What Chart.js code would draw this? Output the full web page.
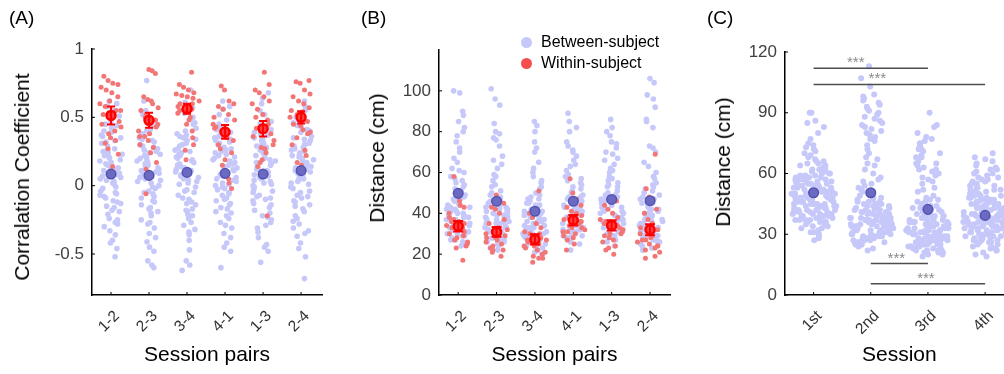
<!DOCTYPE html>
<html>
<head>
<meta charset="utf-8">
<script src="https://cdn.jsdelivr.net/npm/chart.js@4.4.1/dist/chart.umd.min.js"></script>
<style>
  body { margin: 0; width: 1004px; height: 374px; overflow: hidden; background: #fff; position: relative;
         font-family: "Liberation Sans", Arial, sans-serif; }
  canvas { position: absolute; top: 0; }
  .tag { position: absolute; top: 7px; font-size: 19px; color: #000; }
  .ytitle { position: absolute; font-size: 21px; color: #000; white-space: nowrap;
            transform: translate(-50%, -50%) rotate(-90deg); }
  #legend { position: absolute; left: 521px; top: 31px; font-size: 16px; color: #000; }
  #legend div { height: 21px; line-height: 21px; white-space: nowrap; }
  #legend span { display: inline-block; width: 11px; height: 11px; border-radius: 50%; margin-right: 9px; vertical-align: -1px; }
</style>
</head>
<body>
<canvas id="chartA" width="340" height="374" style="left:0"></canvas>
<canvas id="chartB" width="340" height="374" style="left:340px"></canvas>
<canvas id="chartC" width="340" height="374" style="left:680px"></canvas>
<div class="tag" style="left:9px">(A)</div>
<div class="tag" style="left:361px">(B)</div>
<div class="tag" style="left:707px">(C)</div>
<div class="ytitle" style="left:22px;top:177px">Corralation Coefficient</div>
<div class="ytitle" style="left:377px;top:158px">Distance (cm)</div>
<div class="ytitle" style="left:723px;top:162px">Distance (cm)</div>
<div id="legend"></div>
<script>
const pairLabels = ['1-2', '2-3', '3-4', '4-1', '1-3', '2-4'];
const sessionLabels = ['1st', '2nd', '3rd', '4th'];

// (A) correlation coefficient
const corrTicks = [-0.5, 0, 0.5, 1];
const corrBetweenMean = [0.085, 0.075, 0.097, 0.09, 0.085, 0.11];
const corrWithinMean = [0.514, 0.478, 0.563, 0.393, 0.417, 0.5];
const corrWithinSem = [0.066, 0.055, 0.037, 0.05, 0.057, 0.045];
const corrBetween = [
  [0.12,-0.21,0.35,0.02,-0.08,0.44,-0.33,0.18,0.27,-0.15,0.06,0.39,-0.02,-0.27,0.15,0.51,-0.11,0.22,0.09,-0.42,0.31,-0.05,0.04,0.6,-0.18,0.25,0.13,-0.24,0.37,0.01,-0.09,0.19,0.47,-0.3,0.08,0.29,-0.13,0.55,0.11,-0.52,0.2,-0.04,0.33,0.16,-0.19,0.42,0.07,-0.36,0.24,-0.07,0.03,0.58,-0.25,0.14,0.36,-0.01,0.26,-0.46,0.1,0.45,-0.12,0.21,0.05,-0.16,0.32,-0.28,0.17,0.4,-0.06,0.62,0.23,-0.4],
  [-0.14,0.28,0.05,-0.38,0.41,0.11,-0.02,0.19,-0.25,0.33,0.08,-0.6,0.24,-0.09,0.47,0.14,-0.19,0.02,0.36,-0.31,0.17,0.62,-0.06,0.26,0.09,-0.45,0.38,-0.12,0.21,0.03,-0.22,0.55,0.13,-0.04,0.3,-0.58,0.16,0.44,-0.16,0.07,0.25,-0.28,0.35,-0.01,0.77,0.12,-0.35,0.2,-0.08,0.4,0.04,-0.2,0.29,-0.48,0.15,0.52,-0.11,0.22,0,-0.27,0.34,0.1,-0.55,0.18,0.43,-0.05,0.27,-0.17,0.06,0.32,-0.41,0.23],
  [0.31,-0.07,0.18,-0.29,0.46,0.02,0.23,-0.17,0.09,0.38,-0.36,0.14,0.57,-0.03,0.27,-0.12,0.05,0.42,-0.24,0.16,0.7,-0.55,0.21,0.11,-0.09,0.34,-0.19,0.01,0.49,0.13,-0.32,0.25,0.07,-0.05,0.37,-0.62,0.19,0.53,-0.14,0.04,0.29,-0.22,0.4,0.1,-0.4,0.24,-0.01,0.33,0.15,-0.27,0.61,0.06,-0.1,0.22,0.45,-0.18,0.12,-0.47,0.3,0.03,-0.21,0.36,0.17,-0.04,0.26,-0.34,0.08,0.5,-0.13,0.2,-0.58,0.35],
  [-0.2,0.14,0.33,-0.05,0.08,-0.31,0.26,0.45,-0.13,0.02,0.19,-0.42,0.37,0.11,-0.02,0.24,-0.24,0.56,0.06,-0.09,0.3,0.16,-0.35,0.41,0.01,-0.16,0.21,0.09,-0.6,0.34,-0.07,0.13,0.48,-0.27,0.04,0.28,-0.11,0.18,0.62,-0.48,0.23,-0.03,0.39,0.07,-0.19,0.15,0.31,-0.38,0.1,0.52,-0.14,0.25,0.03,-0.22,0.36,0.12,-0.45,0.2,-0.06,0.43,0.17,-0.29,0.05,0.27,-0.01,0.35,-0.17,0.22,0.58,-0.1,0,0.32],
  [0.22,-0.16,0.05,0.39,-0.29,0.13,-0.04,0.31,0.08,-0.43,0.26,0.47,-0.1,0.17,0.01,-0.22,0.35,0.1,-0.07,0.68,0.2,-0.34,0.03,0.43,-0.13,0.28,0.14,-0.48,0.24,-0.01,0.37,0.06,-0.25,0.52,-0.08,0.16,0.3,-0.18,0.09,-0.56,0.41,0.02,-0.31,0.19,0.6,-0.11,0.27,0.12,-0.2,0.34,-0.03,0.07,0.45,-0.27,0.21,-0.38,0.15,0.33,-0.05,0.11,0.55,-0.14,0.25,0.04,-0.23,0.38,0.18,-0.45,0.29,-0.09,0.64,0],
  [0.18,-0.12,0.41,0.06,-0.26,0.3,0.13,-0.04,0.52,0.22,-0.35,0.09,0.36,-0.17,0.27,0.01,-0.42,0.46,0.15,-0.07,0.33,0.2,-0.22,0.58,0.04,-0.31,0.25,0.11,-0.52,0.39,-0.02,0.17,0.48,-0.14,0.08,0.29,-0.68,0.23,0.02,-0.19,0.44,0.14,-0.09,0.35,0.62,-0.28,0.19,0.05,-0.37,0.31,-0.05,0.26,0.12,-0.46,0.4,0.07,-0.15,0.55,0.21,-0.01,0.34,-0.24,0.1,0.43,-0.11,0.16,0.03,-0.33,0.28,0.5,-0.08,0.24]
];
const corrWithin = [
  [0.8,0.55,0.77,0.43,0.75,0.31,0.74,0.62,0.72,0.4,0.7,0.23,0.68,0.52,0.65,0.38,0.6,0.14,0.58,0.47,0.35,0.45,0.33,0.27,0.55],
  [0.85,0.36,0.84,0.5,0.82,0.24,0.65,0.43,0.63,0.3,0.6,0.12,0.57,0.38,0.55,0.48,0.52,0.17,0.62,-0.06,0.45,0.33,0.4,0.28,0.36],
  [0.83,0.45,0.74,0.6,0.72,0.3,0.7,0.55,0.68,0.19,0.67,0.5,0.66,0.35,0.65,0.58,0.64,0.26,0.62,0.48,0.6,0.4,0.57,0.53,0.56],
  [0.73,0.33,0.7,0.42,0.62,0.15,0.6,0.38,0.58,0.02,0.56,0.45,0.52,0.27,0.48,0.19,0.43,0.05,0.4,-0.02,0.35,0.3,0.24,0.36,0.5],
  [0.83,0.42,0.74,0.19,0.7,0.48,0.68,0.3,0.65,0.14,0.62,0.4,0.6,0.24,0.56,-0.22,0.52,0.36,0.45,0.17,0.33,0.27,0.5,0.38,0.28],
  [0.77,0.41,0.76,0.22,0.75,0.5,0.7,0.35,0.67,0.15,0.65,0.47,0.62,0.3,0.6,0.17,0.57,0.44,0.55,0.26,0.52,0.39,0.54,0.45,0.38]
];

// (B) distance per session pair
const distTicks = [0, 20, 40, 60, 80, 100];
const distBetweenMean = [49.8, 45.9, 41.0, 45.9, 46.8, 46.2];
const distWithinMean = [33.7, 30.9, 27.2, 36.6, 34.1, 32.0];
const distWithinSem = [2.6, 2.4, 2.5, 2.6, 2.5, 2.7];
const distBetween = [
  [38,52,31,44,67,29,41,58,35,47,80,33,39,26,55,43,72,36,49,30,62,40,34,88,45,28,53,37,42,99,32,60,46,27,39,75,35,50,41,31,65,44,24,57,38,85,33,48,42,30,70,36,54,40,100,29,46,34,61,43,25,78,37,51,32,90,45,39,56,27,82,47],
  [35,48,28,41,62,31,39,54,26,44,77,33,37,23,51,40,68,34,46,29,58,38,32,84,43,25,49,36,30,101,42,56,27,35,45,73,31,40,22,53,37,80,33,47,28,64,39,44,30,96,36,24,50,34,76,41,27,59,38,45,32,93,29,43,35,66,26,48,37,79,31,42],
  [33,45,27,38,55,24,36,49,30,41,72,28,34,21,47,37,60,31,43,26,52,35,29,83,39,23,44,32,40,58,25,36,46,30,75,34,27,42,20,50,33,65,28,39,22,48,37,80,31,44,26,56,35,29,41,85,24,38,33,53,27,45,36,62,30,22,40,34,70,28,47,32],
  [40,51,32,45,63,29,42,56,35,47,75,31,38,25,53,44,68,34,49,30,59,41,36,89,46,28,52,37,43,82,33,57,39,27,48,71,35,44,22,55,40,85,32,50,29,64,38,46,31,73,42,26,54,36,80,45,30,61,39,48,33,66,28,43,37,58,34,47,41,70,31,44],
  [41,53,33,46,64,30,43,57,36,48,78,32,39,26,55,45,70,35,50,31,61,42,37,86,47,29,53,38,44,80,34,58,40,28,49,72,36,45,24,56,41,82,33,51,30,66,39,47,32,75,43,27,54,37,69,46,31,62,40,49,34,67,29,44,38,60,35,48,42,74,32,45],
  [36,50,29,43,65,27,40,55,33,45,82,30,37,23,52,41,73,34,47,28,60,38,32,96,44,25,51,35,42,106,31,58,39,26,46,86,33,43,22,54,37,92,30,48,27,63,36,45,29,104,40,24,53,34,70,42,28,57,38,47,31,98,26,41,35,72,32,49,39,85,29,44]
];
const distWithin = [
  [58,31,50,25,46,36,43,28,40,33,37,24,36,30,35,23,34,44,33,17,32,38,29,27,26],
  [49,28,46,24,45,33,43,22,42,30,40,21,37,27,35,19,31,32,30,23,29,28,26,25,22],
  [51,24,40,30,38,21,35,27,33,19,31,25,30,18,29,23,28,16,27,22,26,20,25,24,18],
  [57,33,50,29,47,38,44,25,43,36,41,22,40,31,39,28,37,35,34,32,30,27,36,33,31],
  [47,29,46,33,44,24,42,31,40,22,38,28,37,20,36,30,35,26,34,23,32,27,35,33,30],
  [69,29,52,24,48,33,47,22,42,28,40,19,37,26,35,18,32,25,30,23,27,21,31,27,24]
];

// (C) distance per session
const sessTicks = [0, 30, 60, 90, 120];
const sessMean = [50.5, 50.5, 42.3, 39.3];
const sessDist = [
  [48,55,41,62,37,51,45,70,33,58,44,52,39,66,47,54,29,49,60,42,73,36,50,57,40,46,64,31,53,43,
   77,38,56,48,35,61,45,51,68,34,59,42,49,90,37,53,46,63,40,55,28,50,44,71,38,57,47,41,65,35,
   52,45,59,39,48,83,43,54,36,62,49,30,56,46,67,41,51,37,58,44,75,47,53,33,60,42,50,86,39,55,
   45,64,36,52,48,27,57,43,69,40,54,46,61,34,50,80,44,56,38,47,63,41,53,32,59,49,72,37,45,55,
   42,66,48,35,51,43,58,90,40,54,46,62,31,50,44,57,39,74,47,52,36,60,45,85,41,49,56,38,65,53],
  [32,45,28,38,87,41,26,35,52,30,92,43,37,25,48,79,34,40,29,58,36,96,31,44,27,39,83,33,50,24,
   42,65,35,28,97,38,46,30,76,41,33,55,26,89,37,44,29,62,36,103,31,40,27,81,47,34,38,70,25,43,
   35,94,30,49,39,28,85,42,33,57,36,26,78,45,31,40,98,29,37,53,34,88,41,27,46,32,74,38,23,51,
   36,91,30,44,68,35,28,84,39,42,33,60,26,95,37,47,31,80,40,29,56,34,113,38,45,27,86,32,43,36,
   72,30,48,25,90,41,35,64,28,39,82,33,46,22,107,37,54,31,77,42,29,93,36,44,34,67,40,26,99,38],
  [28,36,22,41,65,31,25,47,33,72,27,38,20,44,30,62,35,24,29,52,39,26,75,32,21,43,34,68,28,37,
   23,49,31,60,27,40,25,78,33,29,45,22,57,36,30,26,70,34,24,42,31,64,28,19,39,35,74,27,46,32,
   23,55,37,29,66,25,41,33,90,30,21,48,36,61,28,34,26,73,32,44,24,38,69,29,22,51,35,63,27,40,
   31,83,25,37,30,58,33,20,46,28,76,36,42,26,65,32,24,39,71,29,35,22,53,31,80,27,43,34,25,67,
   30,38,21,47,33,59,28,36,77,24,41,32,62,26,45,35,29,72,23,39,31,56,27,84,34,30,44,25,68,37],
  [38,45,31,52,27,41,35,58,33,47,24,43,36,62,30,49,39,28,55,34,44,22,40,65,32,48,37,26,53,42,
   35,60,29,46,38,19,51,33,43,68,31,40,25,56,36,47,30,41,57,27,44,34,50,23,39,63,32,45,37,28,
   54,42,35,70,30,48,38,26,43,59,33,40,21,52,36,46,29,41,64,34,49,31,38,55,27,44,37,24,50,35,
   42,61,32,47,39,28,53,36,43,20,45,33,58,30,40,66,37,48,26,44,35,51,31,39,57,29,46,34,23,42,
   38,62,32,49,36,27,54,41,33,47,25,40,67,35,44,30,52,37,28,45,39,56,34,43,22,48,31,60,38,36]
];
const sigFrom = [1, 1, 2, 2];
const sigTo = [3, 4, 3, 4];
const sigLevel = [112, 104, 15.5, 5.5];

const BLUE = '#c6c8fa';
const RED = '#f37676';

// spread points sideways, wider where values are dense
function jitter(groups, maxW, band, seed) {
  const pts = [];
  groups.forEach((vals, g) => {
    const dens = vals.map(v => vals.filter(u => Math.abs(u - v) <= band).length);
    const top = Math.max(...dens);
    vals.forEach((v, i) => {
      const f = ((i + 1) * 0.6180339887 + g * 0.37 + seed) % 1;
      const w = maxW * (0.4 + 0.6 * dens[i] / top);
      pts.push({ x: g + 1 + (2 * f - 1) * w, y: v });
    });
  });
  return pts;
}
const atCats = vals => vals.map((v, i) => ({ x: i + 1, y: v }));

const errorBars = {
  id: 'errorBars',
  afterDatasetDraw(chart, args) {
    const ds = chart.data.datasets[args.index];
    if (!ds.errors) return;
    const { ctx, scales: { x, y } } = chart;
    ctx.save();
    ctx.strokeStyle = '#ff0000';
    ctx.lineWidth = 2;
    ds.data.forEach((p, i) => {
      const px = x.getPixelForValue(p.x);
      const lo = y.getPixelForValue(p.y - ds.errors[i]);
      const hi = y.getPixelForValue(p.y + ds.errors[i]);
      const c = ds.capWidth / 2;
      ctx.beginPath();
      ctx.moveTo(px, lo); ctx.lineTo(px, hi);
      ctx.moveTo(px - c, lo); ctx.lineTo(px + c, lo);
      ctx.moveTo(px - c, hi); ctx.lineTo(px + c, hi);
      ctx.stroke();
    });
    ctx.restore();
  }
};

const innerTicks = {
  id: 'innerTicks',
  afterDraw(chart) {
    const { ctx, chartArea: a, scales: { x, y } } = chart;
    ctx.save();
    ctx.strokeStyle = '#000';
    ctx.lineWidth = 1;
    ctx.beginPath();
    x.ticks.forEach(t => { const p = x.getPixelForValue(t.value); ctx.moveTo(p, a.bottom); ctx.lineTo(p, a.bottom - 3); });
    y.ticks.forEach(t => { const p = y.getPixelForValue(t.value); ctx.moveTo(a.left, p); ctx.lineTo(a.left + 3, p); });
    ctx.stroke();
    ctx.restore();
  }
};

const sigBars = {
  id: 'sigBars',
  afterDatasetsDraw(chart, args, opts) {
    const { ctx, scales: { x, y } } = chart;
    ctx.save();
    opts.from.forEach((a, i) => {
      const x1 = x.getPixelForValue(a), x2 = x.getPixelForValue(opts.to[i]);
      const py = y.getPixelForValue(opts.level[i]);
      ctx.strokeStyle = '#4d4d4d';
      ctx.lineWidth = 1.5;
      ctx.beginPath(); ctx.moveTo(x1, py); ctx.lineTo(x2, py); ctx.stroke();
      ctx.fillStyle = '#8a8a8a';
      ctx.font = '15px "Liberation Sans", Arial';
      ctx.textAlign = 'center';
      ctx.fillText('***', (x1 + x2) / 2 + opts.shift[i], py - 1);
    });
    ctx.restore();
  }
};

Chart.register(errorBars, innerTicks);
Chart.defaults.font.family = '"Liberation Sans", Arial, sans-serif';

function makePanel(id, p) {
  return new Chart(document.getElementById(id), {
    type: 'scatter',
    data: { datasets: p.datasets },
    options: {
      responsive: false,
      animation: false,
      events: [],
      layout: { padding: { left: 0, top: p.top, right: p.right, bottom: 0 } },
      plugins: { legend: { display: false }, tooltip: { enabled: false }, sigBars: p.sig },
      scales: {
        x: {
          type: 'linear', min: 0.5, max: p.xMax,
          afterFit: s => { s.height = 374 - 295; },
          afterBuildTicks: s => { s.ticks = p.labels.map((_, i) => ({ value: i + 1 })); },
          grid: { display: false, drawTicks: false },
          border: { display: true, color: '#000', width: 1.5 },
          ticks: { autoSkip: false, minRotation: 45, maxRotation: 45, labelOffset: 6, padding: 12,
                   color: '#333', font: { size: 15.5 }, callback: v => p.labels[v - 1] },
          title: { display: true, text: p.xTitle, color: '#000', font: { size: 21 }, padding: { top: 0, bottom: 6 } }
        },
        y: {
          min: p.yMin, max: p.yMax,
          afterFit: s => { s.width = p.left; },
          afterBuildTicks: s => { s.ticks = p.yTicks.map(v => ({ value: v })); },
          grid: { display: false, drawTicks: false },
          border: { display: true, color: '#000', width: 1.5 },
          ticks: { padding: 8, color: '#404040', font: { size: 17 }, callback: v => String(v) },
          title: { display: false }
        }
      }
    },
    plugins: p.plugins || []
  });
}

function pairDatasets(between, within, betweenMean, withinMean, withinSem, cap, band) {
  return [
    { label: 'Within-subject mean', data: atCats(withinMean), errors: withinSem, capWidth: cap,
      pointRadius: 4.5, backgroundColor: '#ff4040', borderColor: '#ff0000', borderWidth: 2.5 },
    { label: 'Between-subject mean', data: atCats(betweenMean),
      pointRadius: 4.8, backgroundColor: '#6b6ac2', borderColor: '#5452b0', borderWidth: 1.5 },
    { label: 'Within-subject', data: jitter(within, 0.33, band, 0.5),
      pointRadius: 2.5, backgroundColor: RED, borderWidth: 0 },
    { label: 'Between-subject', data: jitter(between, 0.33, band, 0.1),
      pointRadius: 2.8, backgroundColor: BLUE, borderWidth: 0 }
  ];
}

makePanel('chartA', {
  datasets: pairDatasets(corrBetween, corrWithin, corrBetweenMean, corrWithinMean, corrWithinSem, 8, 0.12),
  labels: pairLabels, xMax: 6.55, yMin: -0.8, yMax: 1, yTicks: corrTicks,
  top: 49, right: 18, left: 92,
  xTitle: 'Session pairs'
});

const chartB = makePanel('chartB', {
  datasets: pairDatasets(distBetween, distWithin, distBetweenMean, distWithinMean, distWithinSem, 10, 7),
  labels: pairLabels, xMax: 6.52, yMin: 0, yMax: 120, yTicks: distTicks,
  top: 50, right: 10, left: 99,
  xTitle: 'Session pairs'
});

makePanel('chartC', {
  datasets: [
    { label: 'Mean', data: atCats(sessMean),
      pointRadius: 4.8, backgroundColor: '#6b6ac2', borderColor: '#5452b0', borderWidth: 1.5 },
    { label: 'Between-subject', data: jitter(sessDist, 0.4, 7, 0.2),
      pointRadius: 3, backgroundColor: BLUE, borderWidth: 0 }
  ],
  labels: sessionLabels, xMax: 4.5, yMin: 0, yMax: 120, yTicks: sessTicks,
  top: 52, right: 6, left: 105,
  xTitle: 'Session',
  sig: { from: sigFrom, to: sigTo, level: sigLevel, shift: [-15, -22, -3, -2] },
  plugins: [sigBars]
});

// legend for panel B
const legend = document.getElementById('legend');
chartB.data.datasets.slice(2).reverse().forEach(ds => {
  const row = document.createElement('div');
  const dot = document.createElement('span');
  dot.style.background = ds.label === 'Within-subject' ? '#f44e4e' : BLUE;
  row.appendChild(dot);
  row.appendChild(document.createTextNode(ds.label));
  legend.appendChild(row);
});
</script>
</body>
</html>
